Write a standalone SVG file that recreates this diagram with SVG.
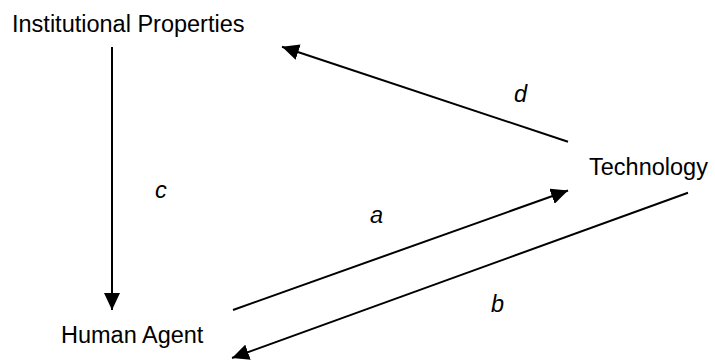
<svg xmlns="http://www.w3.org/2000/svg" width="715" height="360" viewBox="0 0 715 360">
<style>
.lbl{font-family:"Liberation Sans",Arial,sans-serif;font-size:23.5px;fill:#000}
.it{font-family:"Liberation Sans",Arial,sans-serif;font-size:23.5px;font-style:italic;fill:#000}
.edge{stroke:#000;stroke-width:2;fill:none;marker-end:url(#ah)}
</style>
<defs>
<marker id="ah" markerUnits="userSpaceOnUse" markerWidth="18" markerHeight="16" viewBox="0 0 18 16" refX="17" refY="8" orient="auto">
<path d="M0,0 L17,8 L0,16 Z" fill="#000"/>
</marker>
</defs>
<rect width="715" height="360" fill="#fff"/>
<g id="connectors">
<line class="edge" x1="112" y1="47" x2="112" y2="310"/>
<line class="edge" x1="568" y1="141.7" x2="282" y2="46.7"/>
<line class="edge" x1="233" y1="310" x2="568" y2="190.5"/>
<line class="edge" x1="688" y1="192.7" x2="232" y2="358"/>
</g>
<g id="node-institutional"><text class="lbl" x="12" y="32">Institutional Properties</text></g>
<g id="node-technology"><text class="lbl" x="589" y="175">Technology</text></g>
<g id="node-human"><text class="lbl" x="61" y="343">Human Agent</text></g>
<g id="labels">
<text class="it" x="155" y="198">c</text>
<text class="it" x="370" y="223">a</text>
<text class="it" x="491" y="311.5">b</text>
<text class="it" x="514" y="101.5">d</text>
</g>
</svg>
